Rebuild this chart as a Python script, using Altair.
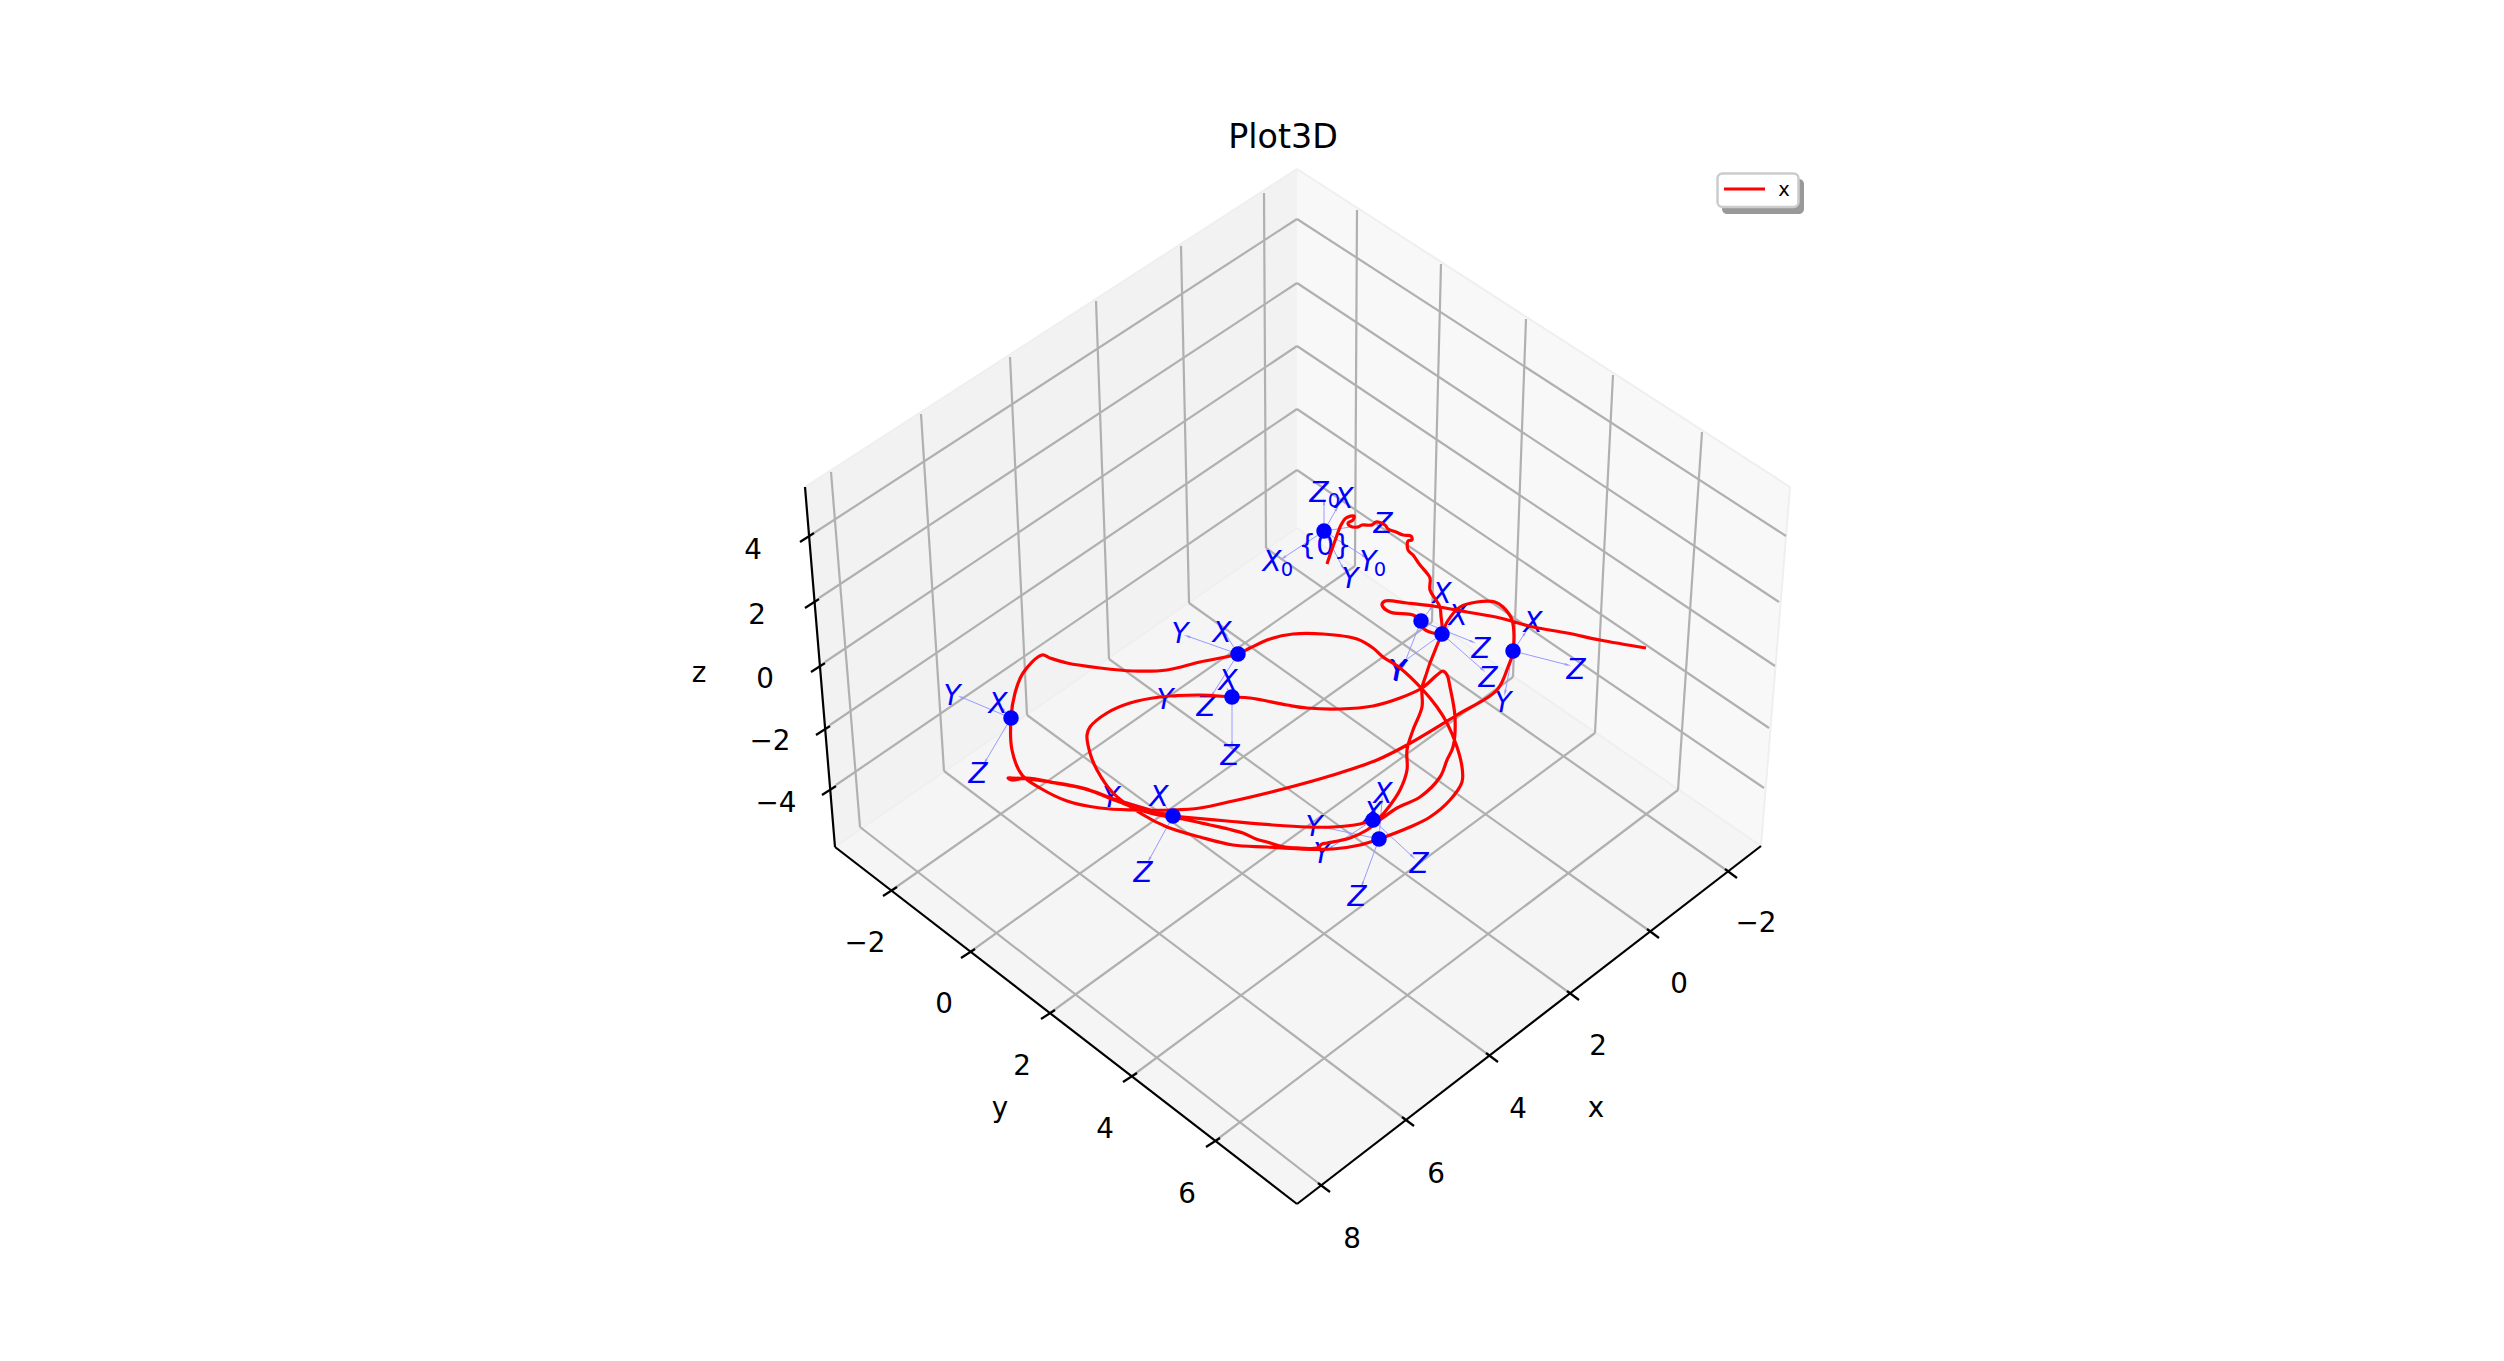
import math
import altair as alt
import pandas as pd

W, H = 2480, 1340
sx = alt.Scale(domain=[8, 8 + W], range=[0, W], nice=False, zero=False)
sy = alt.Scale(domain=[8, 8 + H], range=[0, H], nice=False, zero=False)

# ---------- box geometry ----------
left_wall_x = [805, 835, 1297]
left_wall_top = [487, 467.6, 169]
left_wall_bot = [487, 847, 528]
right_wall_x = [1297, 1761, 1790]
right_wall_top = [169, 468, 487]
right_wall_bot = [528, 846, 487]
floor_x = [835, 1297, 1761]
floor_top = [847, 528, 846]
floor_bot = [847, 1204, 846]
pane_edges = [
    ((835, 847), (1297, 528)), ((1297, 528), (1761, 846)), ((805, 487), (1297, 169)),
    ((1297, 169), (1790, 487)), ((1790, 487), (1761, 846)),
]

x_ticks = ["\u22122", "0", "2", "4", "6", "8"]
x_tick_xy = [(1729, 872), (1651, 932), (1571, 994), (1490, 1056), (1406, 1120), (1322, 1186)]
x_floor_end = [(1266, 548), (1189, 603), (1109, 659), (1027, 715), (944, 771), (860, 827)]
x_wall_top = [(1264, 193), (1181, 246), (1096, 301), (1010, 357), (921, 414), (831, 472)]
x_label_xy = [(1756, 922), (1679, 983), (1598, 1045), (1518, 1108), (1436, 1173), (1352, 1238)]

y_ticks = ["\u22122", "0", "2", "4", "6"]
y_tick_xy = [(892, 890), (970, 952), (1050, 1013), (1132, 1076), (1215, 1141)]
y_floor_end = [(1355, 566), (1432, 622), (1513, 677), (1595, 733), (1678, 790)]
y_wall_top = [(1357, 210), (1441, 264), (1526, 319), (1613, 375), (1702, 432)]
y_label_xy = [(865, 942), (944, 1003), (1022, 1065), (1105, 1128), (1187, 1193)]

z_ticks = ["4", "2", "0", "\u22122", "\u22124"]
z_tick_xy = [(809, 537), (814, 603), (820, 667), (825, 730), (831, 790)]
z_left_end = [(814, 533), (819, 598), (825, 662), (830, 725), (836, 785)]
z_center = [(1297, 219), (1297, 283), (1297, 346), (1297, 409), (1297, 470)]
z_right_end = [(1786, 536), (1779, 602), (1775, 666), (1769, 728), (1764, 788)]
z_label_xy = [(753, 549), (757, 614), (765, 678), (770, 740), (776, 802)]

axis_lines = [((805, 487), (835, 847)), ((835, 847), (1297, 1204)), ((1297, 1204), (1761, 846))]
axis_titles = [("x", 1596, 1107), ("y", 1000, 1107), ("z", 699, 672)]

# ---------- trajectory ----------
trajectory = [
    (1327, 564), (1331, 552), (1336, 538), (1341, 525), (1346, 518), (1354, 516), (1353, 520), (1348, 523),
    (1350, 526), (1358, 527), (1362, 525), (1372, 525), (1376, 522), (1385, 525), (1388, 529), (1396, 532),
    (1403, 535), (1411, 536), (1412, 540), (1408, 541), (1408, 550), (1413, 555), (1420, 565), (1426, 572),
    (1430, 578), (1430, 590), (1436, 600), (1440, 607), (1441, 616), (1442, 625), (1442, 634),
    (1438, 643), (1434, 653), (1430, 663), (1426, 675), (1422, 688), (1422, 707), (1413, 730), (1407, 750),
    (1407, 770), (1400, 790), (1388, 808), (1380, 817), (1373, 820),
    (1360, 824), (1333, 827), (1307, 827), (1273, 825), (1227, 821), (1183, 817), (1173, 816),
    (1150, 810), (1117, 800), (1083, 788), (1050, 782), (1027, 779), (1012, 778), (1008, 778), (1012, 780),
    (1027, 778), (1055, 783), (1085, 789), (1117, 801), (1150, 813), (1183, 819), (1210, 825), (1228, 829),
    (1243, 833), (1256, 839), (1267, 842), (1285, 847), (1300, 848), (1317, 848), (1322, 844), (1327, 843),
    (1350, 838), (1367, 830), (1380, 820), (1397, 808), (1420, 797), (1440, 777), (1447, 760), (1453, 747),
    (1455, 717), (1450, 687), (1447, 675), (1443, 671), (1437, 675), (1422, 688), (1400, 698), (1373, 706),
    (1340, 709), (1307, 708), (1287, 705), (1250, 698), (1232, 697),
    (1200, 695), (1160, 697), (1130, 703), (1107, 713), (1090, 727), (1087, 735), (1090, 753), (1097, 770),
    (1113, 793), (1140, 813), (1167, 827), (1200, 837), (1233, 845), (1267, 847), (1300, 849), (1333, 849),
    (1360, 845), (1379, 839),
    (1410, 827), (1430, 817), (1450, 800), (1462, 782), (1462, 767), (1457, 747), (1447, 723), (1437, 707),
    (1423, 690), (1400, 668), (1383, 657), (1373, 648), (1357, 639), (1323, 634), (1293, 634), (1270, 639),
    (1250, 648), (1238, 654),
    (1200, 662), (1167, 670), (1133, 671), (1100, 668), (1067, 663), (1050, 658), (1042, 655), (1023, 673),
    (1015, 693), (1011, 718), (1012, 750), (1022, 775), (1040, 788), (1067, 801), (1100, 808), (1133, 810),
    (1173, 810), (1200, 808), (1233, 801), (1283, 789), (1333, 775), (1377, 760), (1407, 745), (1457, 715),
    (1497, 690), (1508, 667), (1513, 652), (1512, 620), (1503, 607), (1495, 602), (1477, 602), (1460, 607),
    (1447, 622), (1442, 633), (1433, 633), (1423, 628), (1421, 621),
    (1413, 615), (1390, 612), (1382, 605), (1385, 601), (1407, 603), (1433, 606), (1467, 612), (1500, 618),
    (1533, 627), (1567, 633), (1600, 640), (1646, 648),
]

# ---------- coordinate frames ----------
frame_points = [
    (1324, 531), (1421, 621), (1442, 634), (1513, 651), (1238, 654),
    (1232, 697), (1011, 718), (1173, 816), (1373, 820), (1379, 839),
]
frame_arrows = [
    ((1324, 531), (1324, 502)), ((1324, 531), (1283, 558)), ((1324, 531), (1365, 557)),
    ((1324, 531), (1337, 508)), ((1324, 531), (1377, 523)), ((1324, 531), (1343, 568)),
    ((1421, 621), (1432, 607)), ((1421, 621), (1403, 667)), ((1421, 621), (1473, 642)),
    ((1442, 634), (1452, 622)), ((1442, 634), (1399, 665)), ((1442, 634), (1483, 670)),
    ((1513, 651), (1525, 633)), ((1513, 651), (1505, 693)), ((1513, 651), (1568, 665)),
    ((1238, 654), (1225, 633)), ((1238, 654), (1187, 636)), ((1238, 654), (1212, 695)),
    ((1232, 697), (1228, 690)), ((1232, 697), (1173, 697)), ((1232, 697), (1232, 745)),
    ((1011, 718), (1002, 708)), ((1011, 718), (961, 697)), ((1011, 718), (985, 762)),
    ((1173, 816), (1163, 803)), ((1173, 816), (1118, 799)), ((1173, 816), (1149, 860)),
    ((1373, 820), (1375, 812)), ((1373, 820), (1330, 848)), ((1373, 820), (1413, 857)),
    ((1379, 839), (1382, 800)), ((1379, 839), (1322, 827)), ((1379, 839), (1362, 885)),
]
frame_labels = [
    ("Z", 1319, 492), ("X", 1272, 561), ("Y", 1368, 561),
    ("X", 1344, 498), ("Z", 1383, 523), ("Y", 1350, 578),
    ("X", 1442, 593), ("Y", 1397, 670), ("Z", 1481, 648),
    ("X", 1458, 615), ("Y", 1398, 671), ("Z", 1488, 677),
    ("X", 1533, 622), ("Z", 1576, 669), ("Y", 1503, 702),
    ("X", 1222, 632), ("Y", 1180, 633), ("Z", 1206, 706),
    ("X", 1228, 680), ("Y", 1165, 699), ("Z", 1230, 755),
    ("X", 998, 703), ("Y", 952, 695), ("Z", 978, 773),
    ("X", 1159, 796), ("Y", 1111, 797), ("Z", 1143, 872),
    ("X", 1373, 812), ("Y", 1322, 853), ("Z", 1419, 863),
    ("X", 1383, 793), ("Y", 1314, 826), ("Z", 1357, 896),
]
frame_subscripts = [("0", 1334, 499), ("0", 1287, 568), ("0", 1380, 568)]
frame_name = [("{0}", 1325, 545)]

BLUE = "#0000ff"
FONT = "DejaVu Sans"
TEXT_SHIFT = 1.5


def X(f="x"):
    return alt.X(f"{f}:Q", scale=sx, axis=None)


def Y(f="y"):
    return alt.Y(f"{f}:Q", scale=sy, axis=None)


def area(xs, top, bot, color):
    d = pd.DataFrame({"x": xs, "y": top, "y2": bot})
    return alt.Chart(d).mark_area(color=color, interpolate="linear", opacity=1).encode(
        x=X(), y=Y(), y2=alt.Y2("y2:Q"))


def rules(pairs, color, width, opacity=1.0):
    d = pd.DataFrame([{"x": a[0], "y": a[1], "x2": b[0], "y2": b[1]} for a, b in pairs])
    return alt.Chart(d).mark_rule(color=color, strokeWidth=width, opacity=opacity).encode(
        x=X(), y=Y(), x2="x2:Q", y2="y2:Q")


def texts(rows, size, color="#000000", style="normal"):
    d = pd.DataFrame([{"t": t, "x": a, "y": b + TEXT_SHIFT} for t, a, b in rows])
    return alt.Chart(d).mark_text(
        font=FONT, fontSize=size, color=color, fontStyle=style, align="center", baseline="middle"
    ).encode(x=X(), y=Y(), text="t:N")


def offset(pts, dx, dy):
    return [(a + dx, b + dy) for a, b in pts]


grid = (
    list(zip(x_tick_xy, x_floor_end)) + list(zip(x_floor_end, x_wall_top))
    + list(zip(y_tick_xy, y_floor_end)) + list(zip(y_floor_end, y_wall_top))
    + list(zip(z_left_end, z_center)) + list(zip(z_center, z_right_end))
)
tick_segs = (
    list(zip(offset(x_tick_xy, -4, -3), offset(x_tick_xy, 8, 6)))
    + list(zip(offset(y_tick_xy, 5, -3), offset(y_tick_xy, -9, 6)))
    + list(zip(offset(z_tick_xy, 5, -4), offset(z_tick_xy, -9, 5)))
)

tick_text = (
    [(t, a, b) for t, (a, b) in zip(x_ticks, x_label_xy)]
    + [(t, a, b) for t, (a, b) in zip(y_ticks, y_label_xy)]
    + [(t, a, b) for t, (a, b) in zip(z_ticks, z_label_xy)]
)

traj_df = pd.DataFrame({"x": [p[0] for p in trajectory], "y": [p[1] for p in trajectory],
                        "i": list(range(len(trajectory)))})
traj = alt.Chart(traj_df).mark_line(color="#ff0000", strokeWidth=3.2, interpolate="catmull-rom",
                                    strokeJoin="round").encode(
    x=X(), y=Y(), order="i:Q")

heads = pd.DataFrame([
    {"x": b[0], "y": b[1],
     "a": (math.degrees(math.atan2(b[0] - a[0], -(b[1] - a[1]))) + 360) % 360}
    for a, b in frame_arrows
])
arrow_heads = alt.Chart(heads).mark_point(
    shape="M-0.35,1 L0,-1 L0.35,1 Z", filled=True, color="#9a9aff", size=45, opacity=1
).encode(x=X(), y=Y(), angle=alt.Angle("a:Q", scale=None))

pts_df = pd.DataFrame(frame_points, columns=["x", "y"])
pts = alt.Chart(pts_df).mark_circle(color=BLUE, opacity=1, size=240).encode(x=X(), y=Y())

# ---------- legend ----------
def box(x, x2, y, y2, **kw):
    d = pd.DataFrame([{"x": x, "x2": x2, "y": y, "y2": y2}])
    return alt.Chart(d).mark_rect(**kw).encode(x=X(), x2="x2:Q", y=Y(), y2="y2:Q")


legend_shadow = box(1722, 1804, 179, 214, fill="#999999", cornerRadius=5)
legend_box = box(1717.5, 1798.5, 173.5, 207, fill="#ffffff", stroke="#cccccc", strokeWidth=2.5, cornerRadius=5)
legend_line = rules([((1724, 189), (1765, 189))], "#ff0000", 2.8)
legend_text = texts([("x", 1784, 188)], 19.5)

chart = alt.layer(
    area(left_wall_x, left_wall_top, left_wall_bot, "#f2f2f2"),
    area(right_wall_x, right_wall_top, right_wall_bot, "#f8f8f8"),
    area(floor_x, floor_top, floor_bot, "#f5f5f5"),
    rules(pane_edges, "#efefef", 2),
    rules(grid, "#b0b0b0", 2.2),
    rules(axis_lines, "#000000", 2.2),
    rules(tick_segs, "#000000", 2.2),
    texts(tick_text, 27.8),
    texts(axis_titles, 27.8),
    rules(frame_arrows, "#9a9aff", 1),
    arrow_heads,
    texts(frame_labels, 27.8, BLUE, "italic"),
    texts(frame_subscripts, 19.5, BLUE),
    texts(frame_name, 27.8, BLUE),
    traj,
    pts,
    texts([("Plot3D", 1283, 136)], 33.3),
    legend_shadow,
    legend_box,
    legend_line,
    legend_text,
).properties(width=W, height=H, padding=0, background="#ffffff",
             autosize=alt.AutoSizeParams(type="none")).configure_view(stroke=None)

chart.save("out.html", embed_options={"renderer": "svg", "actions": False})
